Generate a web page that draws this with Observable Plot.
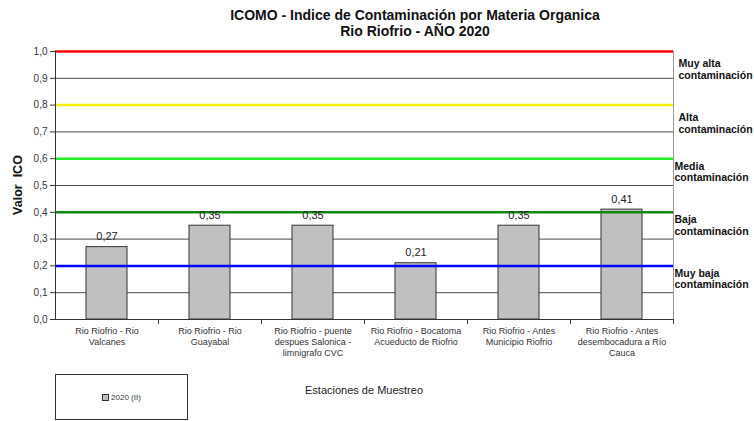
<!DOCTYPE html>
<html><head><meta charset="utf-8">
<script src="https://cdn.jsdelivr.net/npm/d3@7"></script>
<script src="https://cdn.jsdelivr.net/npm/@observablehq/plot@0.6"></script>
<style>
body{margin:0;background:#fff;font-family:"Liberation Sans",Arial,sans-serif;}
#wrap{position:relative;width:754px;height:421px;overflow:hidden;background:#fff;}
#chart{position:absolute;left:0;top:0;}
#title{position:absolute;left:115px;top:7px;width:600px;text-align:center;font-weight:bold;font-size:14px;line-height:16px;color:#111;}
#ylabel{position:absolute;left:18px;top:185px;transform:translate(-50%,-50%) rotate(-90deg);font-weight:bold;font-size:12.5px;white-space:pre;color:#111;}
#legend{position:absolute;left:55px;top:374px;width:133px;height:46px;box-sizing:border-box;border:1px solid #333;display:flex;align-items:center;justify-content:center;font-size:8px;color:#333;}
#legend .sw{width:5px;height:5px;background:#c0c0c0;border:1px solid #333;margin-right:2px;}
#xtitle{position:absolute;left:305px;top:384px;font-size:11px;color:#222;}
</style></head><body>
<div id="wrap">
<div id="chart"></div>
<div id="title">ICOMO - Indice de Contaminación por Materia Organica<br>Rio Riofrio - AÑO 2020</div>
<div id="ylabel">Valor  ICO</div>
<div id="legend"><span class="sw"></span><span id="legtext"></span></div>
<div id="xtitle">Estaciones de Muestreo</div>
</div>
<script>
const categories = [
  "Rio Riofrio - Rio Valcanes",
  "Rio Riofrio - Rio Guayabal",
  "Rio Riofrio - puente despues Salonica - limnigrafo CVC",
  "Rio Riofrio - Bocatoma Acueducto de Riofrio",
  "Rio Riofrio - Antes Municipio Riofrio",
  "Rio Riofrio - Antes desembocadura a Río Cauca"
];
const tickLabels = [
  "Rio Riofrio - Rio\nValcanes",
  "Rio Riofrio - Rio\nGuayabal",
  "Rio Riofrio - puente\ndespues Salonica -\nlimnigrafo CVC",
  "Rio Riofrio - Bocatoma\nAcueducto de Riofrio",
  "Rio Riofrio - Antes\nMunicipio Riofrio",
  "Rio Riofrio - Antes\ndesembocadura a Río\nCauca"
];
const seriesName = "2020 (II)";
const values = [0.27, 0.35, 0.35, 0.21, 0.35, 0.41];
const yTicks = [0, 0.1, 0.2, 0.3, 0.4, 0.5, 0.6, 0.7, 0.8, 0.9, 1.0];
const levelValues = [1.0, 0.8, 0.6, 0.4, 0.2];
const levelLabels = ["Muy alta\ncontaminación", "Alta\ncontaminación", "Media\ncontaminación", "Baja\ncontaminación", "Muy baja\ncontaminación"];
const levelColors = ["#ff0000", "#f2f000", "#22ee22", "#118811", "#0000ff"];

document.getElementById("legtext").textContent = seriesName;

const data = categories.map((c, i) => ({cat: c, value: values[i]}));
const levels = levelValues.map((v, i) => ({v, label: levelLabels[i], color: levelColors[i]}));
const fmt1 = d => d3.format(".1f")(d).replace(".", ",");
const fmt2 = d => d3.format(".2f")(d).replace(".", ",");

const chart = Plot.plot({
  width: 754, height: 421,
  marginTop: 51, marginBottom: 102, marginLeft: 55, marginRight: 81,
  style: {fontFamily: "Liberation Sans, Arial, sans-serif", background: "transparent", color: "#222"},
  x: {domain: categories, paddingInner: 0.6, paddingOuter: 0.3},
  y: {domain: [0, 1]},
  color: {type: "identity"},
  marks: [
    Plot.ruleY(yTicks.filter(t => t > 0 && t < 1), {stroke: "#4a4a4a", strokeWidth: 1}),
    Plot.frame({anchor: "right", stroke: "#9a9a9a"}),
    Plot.barY(data, {x: "cat", y: "value", fill: "#c0c0c0", stroke: "#333", strokeWidth: 1}),
    Plot.ruleY(levels, {y: "v", stroke: "color", strokeWidth: 2.5}),
    Plot.ruleY([0], {stroke: "#333"}),
    Plot.frame({anchor: "left", stroke: "#333"}),
    Plot.ruleX(categories, {x: d => d, dx: 51.5, y1: 0, y2: -0.018, stroke: "#333"}),
    Plot.axisY({ticks: yTicks, tickFormat: fmt1, tickSize: 5, tickPadding: 3, fontSize: 10, label: null, fill: "#333", stroke: "#333"}),
    Plot.axisX({tickSize: 0, tickPadding: 7, tickFormat: d => tickLabels[categories.indexOf(d)], fontSize: 9, lineHeight: 1.2, label: null, fill: "#333"}),
    Plot.text(data, {x: "cat", y: "value", text: d => fmt2(d.value), dy: -7, lineAnchor: "bottom", fontSize: 11, fill: "#222"}),
    Plot.text(levels.filter(d => d.v >= 0.8), {y: "v", text: "label", frameAnchor: "right", textAnchor: "start", dx: 5, dy: 18, fontSize: 10.5, fontWeight: "bold", lineHeight: 1.1, fill: "#111"}),
    Plot.text(levels.filter(d => d.v < 0.8), {y: "v", text: "label", frameAnchor: "right", textAnchor: "start", dx: 1, dy: 13, fontSize: 10.5, fontWeight: "bold", lineHeight: 1.1, fill: "#111"})
  ]
});
document.getElementById("chart").appendChild(chart);
</script>
</body></html>
